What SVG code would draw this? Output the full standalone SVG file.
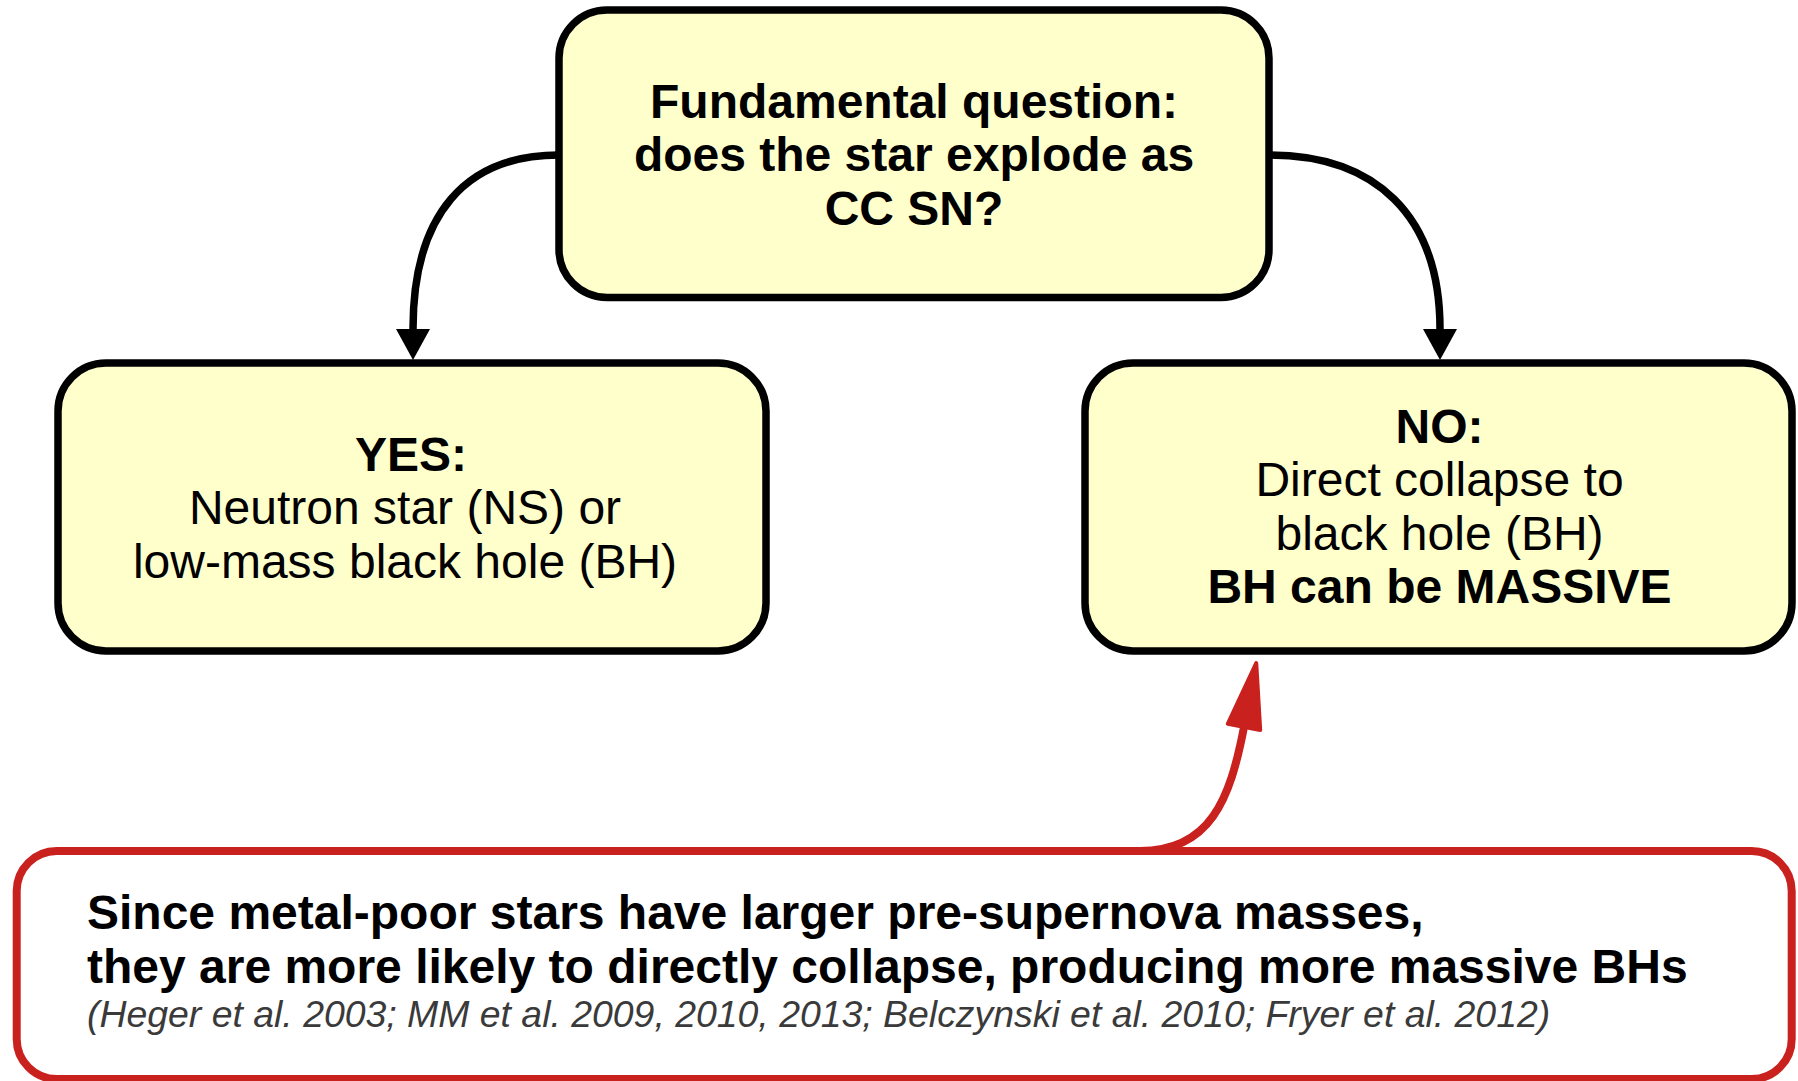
<svg xmlns="http://www.w3.org/2000/svg" width="1798" height="1081" viewBox="0 0 1798 1081">
<style>
.box{fill:#ffffcc;stroke:#000;stroke-width:7.5}
.note{fill:#fff;stroke:#c9211e;stroke-width:8}
.t{font-family:"Liberation Sans",Arial,sans-serif;font-size:48px;fill:#000;text-anchor:middle}
.b{font-weight:bold}
.tl{font-family:"Liberation Sans",Arial,sans-serif;font-size:48px;font-weight:bold;fill:#000}
.cite{font-family:"Liberation Sans",Arial,sans-serif;font-size:37.4px;font-style:italic;fill:#3a3a3a}
.conn{fill:none;stroke:#000;stroke-width:7.5}
.rconn{fill:none;stroke:#c9211e;stroke-width:8}
</style>
<defs>
<marker id="ah" markerUnits="userSpaceOnUse" viewBox="0 0 31 34" markerWidth="31" markerHeight="34" refX="0" refY="17" orient="auto">
<path d="M0,0 L31,17 L0,34 z" fill="#000"/>
</marker>
<marker id="rah" markerUnits="userSpaceOnUse" viewBox="-3 -3 72 39" markerWidth="72" markerHeight="39" refX="0" refY="16.5" orient="auto">
<path d="M0,0 L65,16.5 L0,33 z" fill="#c9211e" stroke="#c9211e" stroke-width="4" stroke-linejoin="round"/>
</marker>
</defs>
<g id="connectors">
<path class="conn" d="M559,155 C465,155 413,215 413,329" marker-end="url(#ah)"/>
<path class="conn" d="M1269,155 C1375,155 1440,215 1440,329" marker-end="url(#ah)"/>
<path class="rconn" d="M1140,851 C1210,851 1230,800 1244,727" marker-end="url(#rah)"/>
</g>
<g id="node-question">
<rect class="box" x="559" y="10" width="710" height="287.5" rx="48" ry="48"/>
<text class="t b" x="914" y="117.5">Fundamental question:</text>
<text class="t b" x="914" y="171">does the star explode as</text>
<text class="t b" x="914" y="224.5">CC SN?</text>
</g>
<g id="node-yes">
<rect class="box" x="58" y="363" width="708" height="288" rx="48" ry="48"/>
<text class="t b" x="411" y="470.5">YES:</text>
<text class="t" x="405" y="524">Neutron star (NS) or</text>
<text class="t" x="405" y="577.5">low-mass black hole (BH)</text>
</g>
<g id="node-no">
<rect class="box" x="1085" y="363" width="707" height="288" rx="48" ry="48"/>
<text class="t b" x="1439.5" y="442.5">NO:</text>
<text class="t" x="1439.5" y="496">Direct collapse to</text>
<text class="t" x="1439.5" y="549.5">black hole (BH)</text>
<text class="t b" x="1439.5" y="603">BH can be MASSIVE</text>
</g>
<g id="node-note">
<rect class="note" x="16.7" y="851" width="1775" height="228" rx="40" ry="40"/>
<text class="tl" x="87" y="928.5">Since metal-poor stars have larger pre-supernova masses,</text>
<text class="tl" x="87" y="982.5">they are more likely to directly collapse, producing more massive BHs</text>
<text class="cite" x="87" y="1026.5">(Heger et al. 2003; MM et al. 2009, 2010, 2013; Belczynski et al. 2010; Fryer et al. 2012)</text>
</g>
</svg>
